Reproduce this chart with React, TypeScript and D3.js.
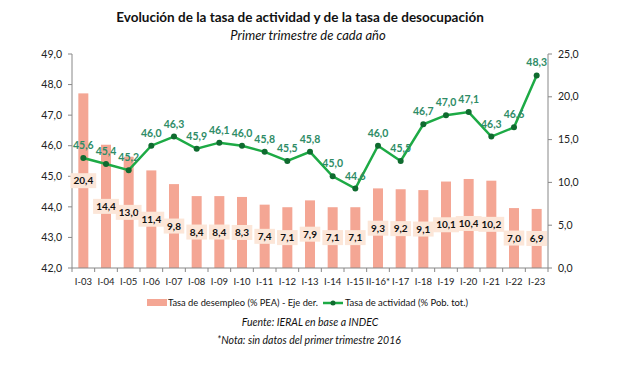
import { scaleBand, scaleLinear, line } from "d3";

const categories = ["I-03","I-04","I-05","I-06","I-07","I-08","I-09","I-10","I-11","I-12","I-13","I-14","I-15","II-16*","I-17","I-18","I-19","I-20","I-21","I-22","I-23"];
const actividad = [45.6,45.4,45.2,46.0,46.3,45.9,46.1,46.0,45.8,45.5,45.8,45.0,44.6,46.0,45.5,46.7,47.0,47.1,46.3,46.6,48.3];
const desempleo = [20.4,14.4,13.0,11.4,9.8,8.4,8.4,8.3,7.4,7.1,7.9,7.1,7.1,9.3,9.2,9.1,10.1,10.4,10.2,7.0,6.9];
const leftTicks = [42,43,44,45,46,47,48,49];
const rightTicks = [0,5,10,15,20,25];

const W = 621;
const H = 366;
const MARGIN = { top: 54, left: 72, right: 73, bottom: 98 };
const FONT = "Lato, 'Open Sans', sans-serif";

const fmt = (v: number) => v.toFixed(1).replace(".", ",");

export default function App() {
  const boundsWidth = W - MARGIN.left - MARGIN.right;
  const boundsHeight = H - MARGIN.top - MARGIN.bottom;

  const xScale = scaleBand().domain(categories).range([0, boundsWidth]);
  const yLeft = scaleLinear().domain([42, 49]).range([boundsHeight, 0]);
  const yRight = scaleLinear().domain([0, 25]).range([boundsHeight, 0]);
  const bw = xScale.bandwidth();
  const cx = (c: string) => (xScale(c) ?? 0) + bw / 2;

  const pts = categories.map((c, i) => ({ c, v: actividad[i] }));
  const linePath = line<{ c: string; v: number }>()
    .x((d) => cx(d.c))
    .y((d) => yLeft(d.v));

  return (
    <div style={{ position: "absolute", left: 0, top: 0 }}>
      <svg width={W} height={H} fontFamily={FONT} style={{ display: "block" }}>
        <rect width={W} height={H} fill="#fff" />
        <text x={300} y={22} textAnchor="middle" fontSize={13.5} fontWeight={700} fill="#111">
          Evolución de la tasa de actividad y de la tasa de desocupación
        </text>
        <text x={308} y={40} textAnchor="middle" fontSize={13} fontStyle="italic" fill="#111">
          Primer trimestre de cada año
        </text>

        <g transform={`translate(${MARGIN.left},${MARGIN.top})`}>
          {/* bars */}
          {categories.map((c, i) => (
            <rect
              key={c}
              x={cx(c) - 5}
              width={10}
              y={yRight(desempleo[i])}
              height={boundsHeight - yRight(desempleo[i])}
              fill="#F4A694"
            />
          ))}

          {/* left axis */}
          <line x1={0} x2={0} y1={0} y2={boundsHeight} stroke="#888" />
          {leftTicks.map((t) => (
            <g key={t}>
              <line x1={-4} x2={0} y1={yLeft(t)} y2={yLeft(t)} stroke="#888" />
              <text x={-10} y={yLeft(t)} dy="0.35em" textAnchor="end" fontSize={10.5} fill="#222">
                {fmt(t)}
              </text>
            </g>
          ))}

          {/* right axis */}
          <line x1={boundsWidth} x2={boundsWidth} y1={0} y2={boundsHeight} stroke="#888" />
          {rightTicks.map((t) => (
            <g key={t}>
              <line x1={boundsWidth} x2={boundsWidth + 4} y1={yRight(t)} y2={yRight(t)} stroke="#888" />
              <text x={boundsWidth + 10} y={yRight(t)} dy="0.35em" textAnchor="start" fontSize={10.5} fill="#222">
                {fmt(t)}
              </text>
            </g>
          ))}

          {/* x axis */}
          <line x1={0} x2={boundsWidth} y1={boundsHeight} y2={boundsHeight} stroke="#888" />
          {categories.map((c, i) => (
            <g key={c}>
              <line
                x1={(xScale(c) ?? 0)}
                x2={(xScale(c) ?? 0)}
                y1={boundsHeight}
                y2={boundsHeight + 4}
                stroke="#888"
              />
              {i === categories.length - 1 && (
                <line x1={boundsWidth} x2={boundsWidth} y1={boundsHeight} y2={boundsHeight + 4} stroke="#888" />
              )}
              <text x={cx(c)} y={boundsHeight + 17} textAnchor="middle" fontSize={9.5} fill="#222">
                {c}
              </text>
            </g>
          ))}

          {/* bar labels */}
          {categories.map((c, i) => {
            const y = yRight(desempleo[i] / 2);
            const label = fmt(desempleo[i]);
            const w = label.length * 5.2 + 5;
            return (
              <g key={c}>
                <rect x={cx(c) - w / 2} y={y - 7.5} width={w} height={15} fill="#FCE6D8" />
                <text x={cx(c)} y={y} dy="0.36em" textAnchor="middle" fontSize={10} fontWeight={700} fill="#111">
                  {label}
                </text>
              </g>
            );
          })}

          {/* line */}
          <path d={linePath(pts) ?? ""} fill="none" stroke="#1DAA45" strokeWidth={2.5} />
          {pts.map((d) => (
            <circle key={d.c} cx={cx(d.c)} cy={yLeft(d.v)} r={3} fill="#0F6B2F" />
          ))}
          {pts.map((d) => (
            <text
              key={d.c}
              x={cx(d.c)}
              y={yLeft(d.v) - 9}
              textAnchor="middle"
              fontSize={10.5}
              fontWeight={700}
              fill="#2E8C66"
            >
              {fmt(d.v)}
            </text>
          ))}
        </g>

        {/* legend */}
        <rect x={147} y={299} width={20} height={7} fill="#F4A694" />
        <text x={168} y={306} fontSize={10} textLength={150} lengthAdjust="spacingAndGlyphs" fill="#111">
          Tasa de desempleo (% PEA) - Eje der.
        </text>
        <line x1={323} x2={343} y1={303} y2={303} stroke="#1DAA45" strokeWidth={2.5} />
        <circle cx={333} cy={303} r={2.5} fill="#0F6B2F" />
        <text x={345} y={306} fontSize={10} textLength={123} lengthAdjust="spacingAndGlyphs" fill="#111">
          Tasa de actividad (% Pob. tot.)
        </text>

        <text x={310} y={326} textAnchor="middle" fontSize={10.5} fontStyle="italic" fill="#111">
          Fuente: IERAL en base a INDEC
        </text>
        <text x={309} y={344} textAnchor="middle" fontSize={10.5} fontStyle="italic" fill="#111">
          *Nota: sin datos del primer trimestre 2016
        </text>
      </svg>
    </div>
  );
}
